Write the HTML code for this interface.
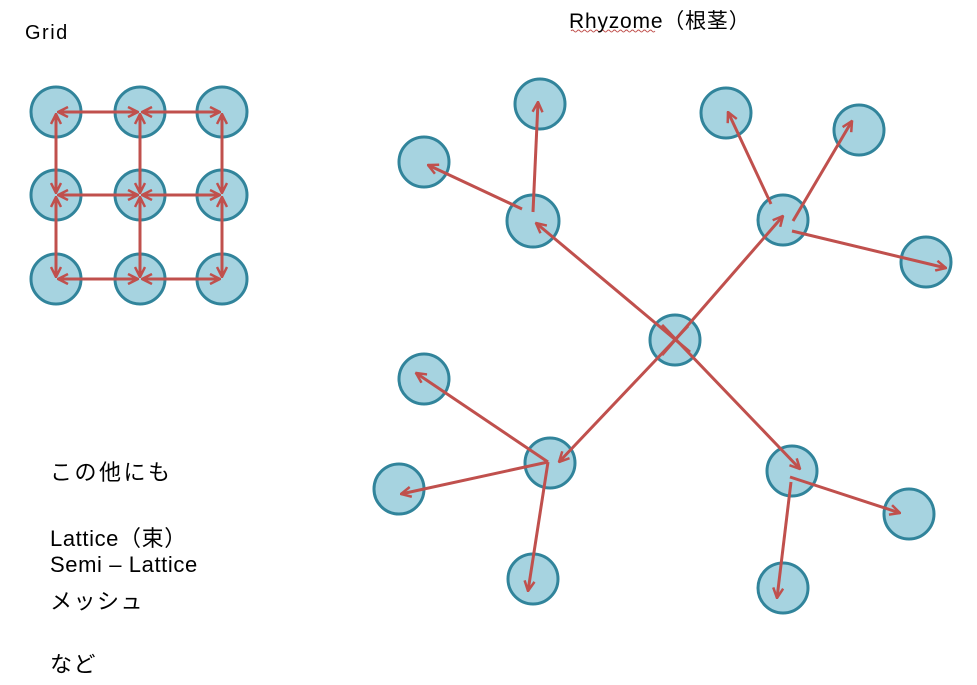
<!DOCTYPE html>
<html><head><meta charset="utf-8"><style>
body{margin:0;background:#fff;width:977px;height:685px;overflow:hidden;position:relative;font-family:"Liberation Sans","Noto Sans CJK JP",sans-serif;}
.t{position:absolute;color:#000;white-space:nowrap;}
</style></head><body>
<svg width="977" height="685" style="position:absolute;left:0;top:0">
<defs>
<marker id="a" viewBox="0 0 12 12" refX="11" refY="6" markerWidth="12" markerHeight="12" markerUnits="userSpaceOnUse" orient="auto-start-reverse">
<path d="M1,1 L11,6 L1,11" fill="none" stroke="#c0504d" stroke-width="2.5"/>
</marker>
</defs>
<g fill="#a6d3e0" stroke="#31849b" stroke-width="3">
<circle cx="56" cy="112" r="25"/><circle cx="140" cy="112" r="25"/><circle cx="222" cy="112" r="25"/>
<circle cx="56" cy="195" r="25"/><circle cx="140" cy="195" r="25"/><circle cx="222" cy="195" r="25"/>
<circle cx="56" cy="279" r="25"/><circle cx="140" cy="279" r="25"/><circle cx="222" cy="279" r="25"/>
<circle cx="675" cy="340" r="25"/>
<circle cx="533" cy="221" r="26"/><circle cx="540" cy="104" r="25"/><circle cx="424" cy="162" r="25"/>
<circle cx="783" cy="220" r="25"/><circle cx="726" cy="113" r="25"/><circle cx="859" cy="130" r="25"/><circle cx="926" cy="262" r="25"/>
<circle cx="550" cy="463" r="25"/><circle cx="424" cy="379" r="25"/><circle cx="399" cy="489" r="25"/><circle cx="533" cy="579" r="25"/>
<circle cx="792" cy="471" r="25"/><circle cx="909" cy="514" r="25"/><circle cx="783" cy="588" r="25"/>
</g>
<g stroke="#c0504d" stroke-width="3" fill="none" marker-end="url(#a)" marker-start="url(#a)">
<line x1="58" y1="112" x2="138" y2="112"/><line x1="142" y1="112" x2="220" y2="112"/>
<line x1="58" y1="195" x2="138" y2="195"/><line x1="142" y1="195" x2="220" y2="195"/>
<line x1="58" y1="279" x2="138" y2="279"/><line x1="142" y1="279" x2="220" y2="279"/>
<line x1="56" y1="114" x2="56" y2="193"/><line x1="56" y1="197" x2="56" y2="277"/>
<line x1="140" y1="114" x2="140" y2="193"/><line x1="140" y1="197" x2="140" y2="277"/>
<line x1="222" y1="114" x2="222" y2="193"/><line x1="222" y1="197" x2="222" y2="277"/>
</g>
<g stroke="#c0504d" stroke-width="3" fill="none" marker-end="url(#a)">
<line x1="690" y1="352" x2="536" y2="223"/>
<line x1="662" y1="355" x2="783" y2="216"/>
<line x1="688" y1="326" x2="559" y2="462"/>
<line x1="662" y1="325" x2="800" y2="469"/>
<line x1="533" y1="212" x2="538" y2="102"/>
<line x1="522" y1="209" x2="428" y2="165"/>
<line x1="771" y1="204" x2="728" y2="112"/>
<line x1="793" y1="221" x2="852" y2="121"/>
<line x1="792" y1="231" x2="946" y2="268"/>
<line x1="548" y1="462" x2="416" y2="373"/>
<line x1="548" y1="462" x2="401" y2="494"/>
<line x1="548" y1="462" x2="528" y2="591"/>
<line x1="790" y1="477" x2="900" y2="513"/>
<line x1="791" y1="482" x2="777" y2="598"/>
</g>
<path d="M571,31 q1.5,-2 3,0 t3,0 t3,0 t3,0 t3,0 t3,0 t3,0 t3,0 t3,0 t3,0 t3,0 t3,0 t3,0 t3,0 t3,0 t3,0 t3,0 t3,0 t3,0 t3,0 t3,0 t3,0 t3,0 t3,0 t3,0 t3,0 t3,0 t3,0" stroke="#c0504d" stroke-width="1" fill="none"/>
</svg>
<div class="t" style="left:25px;top:22px;font-size:20px;letter-spacing:1.5px">Grid</div>
<div class="t" style="left:569px;top:5px;font-size:21px;letter-spacing:0.8px">Rhyzome（根茎）</div>
<div class="t" style="left:50px;top:455px;font-size:22px;letter-spacing:2.5px">この他にも</div>
<div class="t" style="left:50px;top:521px;font-size:22px;letter-spacing:0.6px">Lattice（束）</div>
<div class="t" style="left:50px;top:552px;font-size:22px;letter-spacing:0.6px">Semi – Lattice</div>
<div class="t" style="left:50px;top:584px;font-size:22px;letter-spacing:1.5px">メッシュ</div>
<div class="t" style="left:50px;top:647px;font-size:22px;letter-spacing:1.5px">など</div>
</body></html>
